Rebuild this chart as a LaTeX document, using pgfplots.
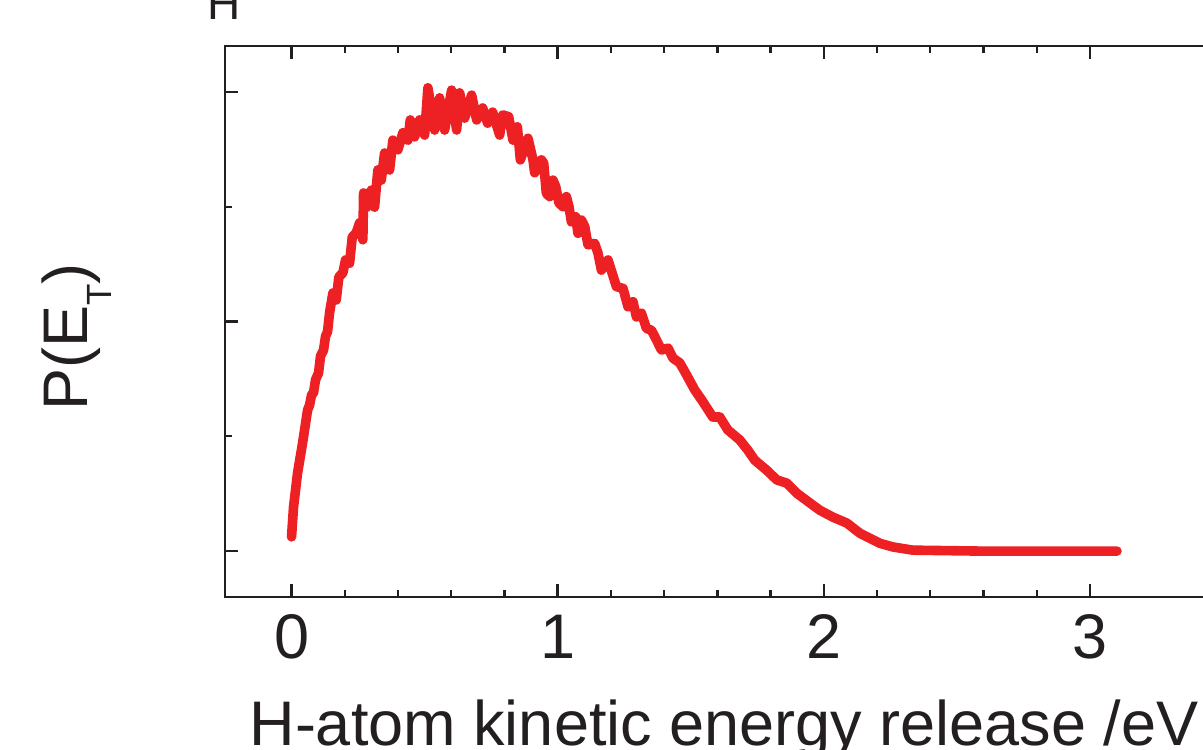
\documentclass[border=0pt]{standalone}
\usepackage{fontspec}
\setmainfont{Liberation Sans}
\usepackage{pgfplots}
\pgfplotsset{compat=1.18}
\definecolor{curvered}{RGB}{237,32,36}
\definecolor{axblack}{RGB}{35,31,32}
\begin{document}
\begin{tikzpicture}[font=\fontsize{31.5}{36}\selectfont]
\useasboundingbox (-112.5pt,-76pt) rectangle (489pt,298.5pt);
\clip (-112.5pt,-76pt) rectangle (489pt,298.5pt);
\begin{axis}[
  scale only axis, width=499pt, height=275.5pt,
  xmin=-0.25, xmax=3.5, ymin=-0.1, ymax=1.1,
  axis line style={line width=1.2pt, color=axblack},
  every tick/.style={line width=1.2pt, color=axblack},
  tick align=inside,
  major tick length=6.5pt, minor tick length=3.5pt,
  xtick={0,1,2,3}, minor x tick num=4,
  ytick={0,0.5,1}, minor y tick num=1, yticklabels={},
  /pgf/number format/assume math mode=true,
  xticklabel style={anchor=base, yshift=-30.5pt, text=axblack},
  xlabel={H-atom kinetic energy release /eV},
  xlabel style={at={(axis description cs:0.5,-0.2686)}, anchor=base, text=axblack},
  ylabel={P(E\raisebox{-12pt}{\fontsize{17.5}{20}\selectfont T})},
  ylabel style={at={(axis description cs:-0.13777,0.4719)}, anchor=base, rotate=0, text=axblack},
  clip=false,
]
\addplot[color=curvered, line width=4.8pt, line join=round, line cap=round] coordinates {
(0,0.031) (0.0075,0.096) (0.0226,0.170) (0.0414,0.235) (0.0602,0.307)
(0.0677,0.318) (0.0752,0.340) (0.0827,0.345) (0.0902,0.373) (0.1015,0.388)
(0.1090,0.425) (0.1203,0.438) (0.1278,0.468) (0.1354,0.478)
(0.1429,0.519) (0.1553,0.562) (0.1680,0.547) (0.1778,0.597) (0.1929,0.606)
(0.2030,0.634) (0.2180,0.627) (0.2282,0.684) (0.2432,0.693) (0.2556,0.715)
(0.2680,0.678) (0.2707,0.780) (0.2831,0.749) (0.2996,0.786) (0.3120,0.749)
(0.3244,0.830) (0.3372,0.808) (0.3496,0.867) (0.3684,0.830) (0.3808,0.895)
(0.3996,0.874) (0.4184,0.911) (0.4372,0.895) (0.4462,0.939) (0.4624,0.902)
(0.4812,0.939) (0.5000,0.906) (0.5124,1.009)
(0.5376,0.917) (0.5564,0.987) (0.5752,0.917)
(0.6015,1.004) (0.6203,0.917) (0.6316,0.998) (0.6504,0.943) (0.6767,0.993)
(0.6955,0.939) (0.7180,0.965) (0.7368,0.932) (0.7556,0.956) (0.7820,0.906)
(0.7932,0.950) (0.8158,0.946) (0.8321,0.895) (0.8485,0.924) (0.8598,0.852)
(0.8885,0.899) (0.9073,0.852) (0.9135,0.824) (0.9387,0.852) (0.9474,0.845)
(0.9575,0.779) (0.9699,0.772) (0.9823,0.808) (0.9925,0.794) (1.0049,0.758)
(1.0199,0.750) (1.0327,0.772) (1.0425,0.750) (1.0515,0.717) (1.0677,0.728)
(1.0763,0.692) (1.0891,0.721) (1.1015,0.707) (1.1139,0.667) (1.1391,0.670)
(1.1515,0.649) (1.1643,0.612) (1.1891,0.634) (1.2207,0.576) (1.2455,0.572)
(1.2643,0.532) (1.2831,0.543) (1.2959,0.510) (1.3147,0.518) (1.3335,0.485)
(1.3523,0.481) (1.3711,0.460) (1.3899,0.438) (1.4147,0.442) (1.4335,0.420)
(1.4586,0.410) (1.4850,0.383) (1.5150,0.351)
(1.5414,0.329) (1.5827,0.292) (1.6090,0.292) (1.6391,0.264) (1.6842,0.242)
(1.7143,0.220) (1.7406,0.198) (1.7857,0.176) (1.8233,0.155) (1.8609,0.148)
(1.8985,0.126) (1.9474,0.105) (1.9850,0.089) (2.0338,0.074) (2.0865,0.061)
(2.1353,0.039) (2.2105,0.017) (2.2594,0.009) (2.3346,0.002) (2.5865,0)
(3.1015,0)
};
\node[anchor=base west, inner sep=0pt, font=\fontsize{23}{26}\selectfont, text=axblack]
  at (axis description cs:-0.018,1.0472) {H};
\end{axis}
\end{tikzpicture}
\end{document}
